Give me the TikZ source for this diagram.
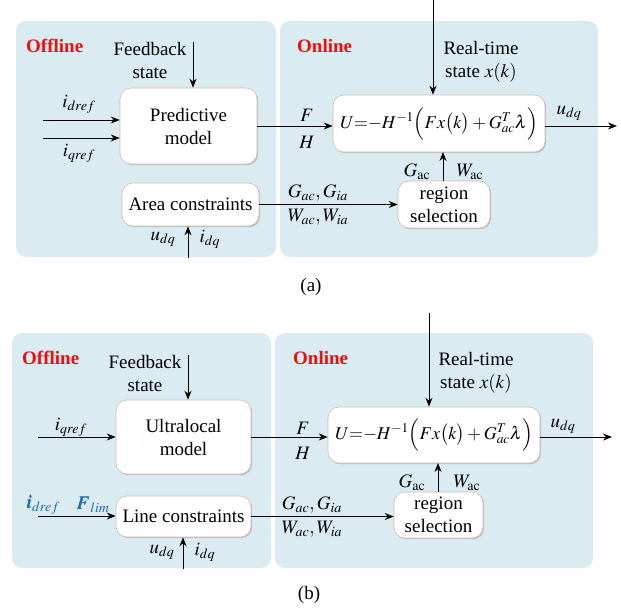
\documentclass[tikz,border=0pt]{standalone}
\usepackage{mathptmx}
\usepackage{bm}
\usepackage{fontspec}
\setmainfont{Liberation Serif}
\usetikzlibrary{arrows.meta,shadows}
\definecolor{panelblue}{HTML}{DAEBF2}
\definecolor{titlered}{HTML}{F20D0D}
\definecolor{limblue}{HTML}{1F6FB5}
\definecolor{boxline}{HTML}{D8B9B2}

\begin{document}
\begin{tikzpicture}[
    x=1pt, y=-1pt,
    font=\fontsize{19}{23}\selectfont,
    panel/.style={fill=panelblue, rounded corners=10pt},
    block/.style={draw=boxline, fill=white, line width=0.6pt, rounded corners=11pt,
        align=center, inner sep=0pt,
        drop shadow={shadow xshift=1.2pt, shadow yshift=-1.2pt, fill=black!35, opacity=0.6}},
    lbl/.style={inner sep=0pt},
    title/.style={inner sep=0pt, anchor=west, text=titlered, font=\fontsize{19}{23}\selectfont\bfseries},
    sig/.style={line width=1pt, -{Stealth[length=9pt,width=7pt]}}
]
    \useasboundingbox (0,0) rectangle (621,614);
    \def\ctrllaw{\fontsize{18}{22}\selectfont$U{=}{-}H^{-1}\Bigl(Fx\bigl(k\bigr)+G_{ac}^{T}\lambda\Bigr)$}

    % ---------- (a) ----------
    \fill[panel] (16,21) rectangle (276,257);
    \fill[panel] (280,21) rectangle (598,257);
    \node[title] (offA) at (26,46) {Offline};
    \node[title] (onA) at (297,46) {Online};

    \node[block, minimum width=137pt, minimum height=76pt] (pmA) at (188.5,126) {Predictive\\model};
    \node[block, minimum width=137pt, minimum height=43pt] (acA) at (190.5,204.5) {Area constraints};
    \node[block, minimum width=212pt, minimum height=57pt] (uA) at (439,123.5) {\ctrllaw};
    \node[block, minimum width=92pt, minimum height=47pt] (rsA) at (444,204.5) {region\\selection};

    \node[lbl, align=center] (fbA) at (150,60.5) {Feedback\\state};
    \node[lbl, align=center] (rtA) at (481,61.5) {Real-time\\state $x(k)$};
    \coordinate (fbinA) at (193,42);
    \coordinate (rtinA) at (433,0);
    \coordinate (idinA) at (43,120);
    \coordinate (iqinA) at (43,138);
    \coordinate (uinA) at (188,258);
    \coordinate (uoutA) at (617,126);

    \draw[sig] (fbinA) -- (fbinA |- pmA.north);
    \draw[sig] (rtinA) -- (rtinA |- uA.north);
    \draw[sig] (idinA) -- (idinA -| pmA.west);
    \draw[sig] (iqinA) -- (iqinA -| pmA.west);
    \draw[sig] (uinA) -- (uinA |- acA.south);
    \draw[sig] (pmA.east |- uoutA) -- (uA.west |- uoutA);
    \draw[sig] (uA.east |- uoutA) -- (uoutA);
    \draw[sig] (acA.east) -- (rsA.west |- acA.east);
    \draw[sig] (443,181) -- (443,152);

    \node[lbl] (idA) at (79,104) {$i_{dref}$};
    \node[lbl] (iqA) at (79,153) {$i_{qref}$};
    \node[lbl] (udA) at (163,239) {$u_{dq}$};
    \node[lbl] (idqA) at (210,239) {$i_{dq}$};
    \node[lbl] (fA) at (307,115) {$F$};
    \node[lbl] (hA) at (307,142) {$H$};
    \node[lbl] (uoA) at (569,113) {$u_{dq}$};
    \node[lbl] (gaA) at (417,172) {$G_{\mathrm{ac}}$};
    \node[lbl] (waA) at (470,172) {$W_{\mathrm{ac}}$};
    \node[lbl] (gsA) at (318,193) {$G_{ac},G_{ia}$};
    \node[lbl] (wsA) at (318,217) {$W_{ac},W_{ia}$};
    \node[lbl] (capA) at (311,287) {(a)};

    % ---------- (b) ----------
    \fill[panel] (12,333) rectangle (271,568);
    \fill[panel] (275,333) rectangle (593,568);
    \node[title] (offB) at (22,358) {Offline};
    \node[title] (onB) at (293,358) {Online};

    \node[block, minimum width=135pt, minimum height=74pt] (pmB) at (183.5,437) {Ultralocal\\model};
    \node[block, minimum width=135pt, minimum height=41pt] (lcB) at (183.5,516.5) {Line constraints};
    \node[block, minimum width=212pt, minimum height=56pt] (uB) at (434,435) {\ctrllaw};
    \node[block, minimum width=89pt, minimum height=46pt] (rsB) at (438.5,515) {region\\selection};

    \node[lbl, align=center] (fbB) at (145,373) {Feedback\\state};
    \node[lbl, align=center] (rtB) at (476,373) {Real-time\\state $x(k)$};
    \coordinate (fbinB) at (188,355);
    \coordinate (rtinB) at (429,313);
    \coordinate (iqinB) at (38,437);
    \coordinate (lminB) at (38,516);
    \coordinate (uinB) at (183,569);
    \coordinate (uoutB) at (612,437);

    \draw[sig] (fbinB) -- (fbinB |- pmB.north);
    \draw[sig] (rtinB) -- (rtinB |- uB.north);
    \draw[sig] (iqinB) -- (iqinB -| pmB.west);
    \draw[sig] (lminB) -- (lminB -| lcB.west);
    \draw[sig] (uinB) -- (uinB |- lcB.south);
    \draw[sig] (pmB.east |- uoutB) -- (uB.west |- uoutB);
    \draw[sig] (uB.east |- uoutB) -- (uoutB);
    \draw[sig] (lcB.east) -- (rsB.west |- lcB.east);
    \draw[sig] (438,492) -- (438,463);

    \node[lbl] (iqB) at (71,427) {$i_{qref}$};
    \node[lbl, text=limblue] (idB) at (43,505) {$\bm{i_{dref}}$};
    \node[lbl, text=limblue] (flB) at (93,505) {$\bm{F_{lim}}$};
    \node[lbl] (udB) at (162,552) {$u_{dq}$};
    \node[lbl] (idqB) at (205,552) {$i_{dq}$};
    \node[lbl] (fB) at (303,428) {$F$};
    \node[lbl] (hB) at (303,453) {$H$};
    \node[lbl] (uoB) at (563,426) {$u_{dq}$};
    \node[lbl] (gaB) at (412,483) {$G_{\mathrm{ac}}$};
    \node[lbl] (waB) at (467,483) {$W_{\mathrm{ac}}$};
    \node[lbl] (gsB) at (312,505) {$G_{ac},G_{ia}$};
    \node[lbl] (wsB) at (312,529) {$W_{ac},W_{ia}$};
    \node[lbl] (capB) at (309,595) {(b)};
\end{tikzpicture}
\end{document}
